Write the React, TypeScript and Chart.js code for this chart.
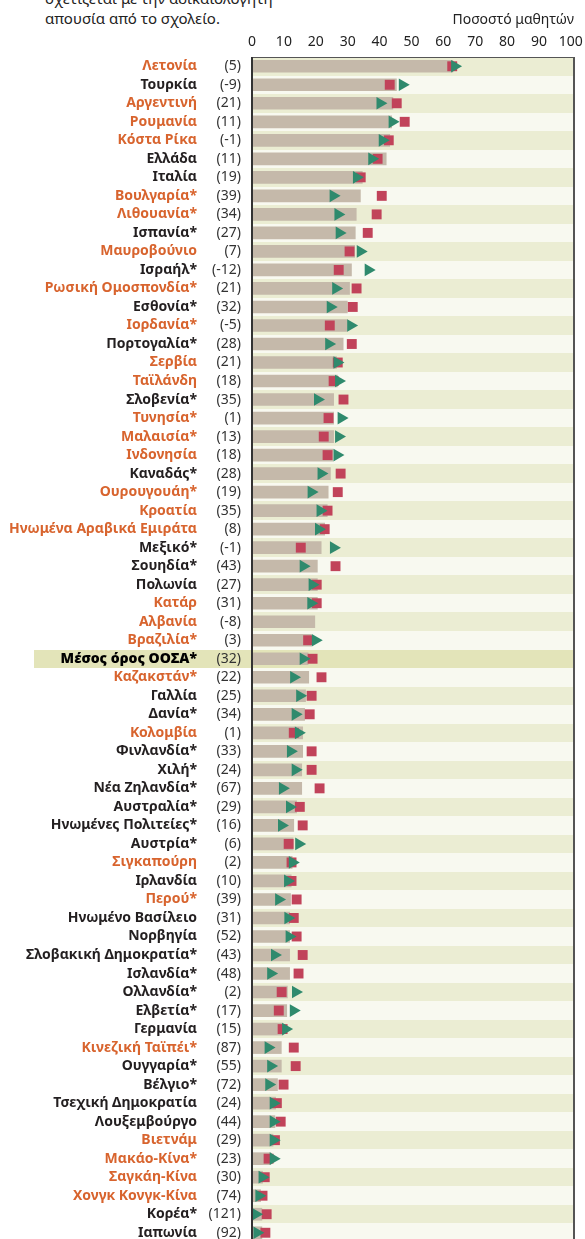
import React, { useEffect, useRef } from "react";
import { Chart, registerables } from "chart.js";

Chart.register(...registerables);

const countries = [
  "Λετονία", "Τουρκία", "Αργεντινή", "Ρουμανία", "Κόστα Ρίκα", "Ελλάδα", "Ιταλία",
  "Βουλγαρία*", "Λιθουανία*", "Ισπανία*", "Μαυροβούνιο", "Ισραήλ*", "Ρωσική Ομοσπονδία*",
  "Εσθονία*", "Ιορδανία*", "Πορτογαλία*", "Σερβία", "Ταϊλάνδη", "Σλοβενία*", "Τυνησία*",
  "Μαλαισία*", "Ινδονησία", "Καναδάς*", "Ουρουγουάη*", "Κροατία", "Ηνωμένα Αραβικά Εμιράτα",
  "Μεξικό*", "Σουηδία*", "Πολωνία", "Κατάρ", "Αλβανία", "Βραζιλία*", "Μέσος όρος ΟΟΣΑ*",
  "Καζακστάν*", "Γαλλία", "Δανία*", "Κολομβία", "Φινλανδία*", "Χιλή*", "Νέα Ζηλανδία*",
  "Αυστραλία*", "Ηνωμένες Πολιτείες*", "Αυστρία*", "Σιγκαπούρη", "Ιρλανδία", "Περού*",
  "Ηνωμένο Βασίλειο", "Νορβηγία", "Σλοβακική Δημοκρατία*", "Ισλανδία*", "Ολλανδία*",
  "Ελβετία*", "Γερμανία", "Κινεζική Ταϊπέι*", "Ουγγαρία*", "Βέλγιο*", "Τσεχική Δημοκρατία",
  "Λουξεμβούργο", "Βιετνάμ", "Μακάο-Κίνα*", "Σαγκάη-Κίνα", "Χονγκ Κονγκ-Κίνα", "Κορέα*", "Ιαπωνία",
];

const changeLabels = [
  "(5)", "(-9)", "(21)", "(11)", "(-1)", "(11)", "(19)",
  "(39)", "(34)", "(27)", "(7)", "(-12)", "(21)",
  "(32)", "(-5)", "(28)", "(21)", "(18)", "(35)", "(1)",
  "(13)", "(18)", "(28)", "(19)", "(35)", "(8)",
  "(-1)", "(43)", "(27)", "(31)", "(-8)", "(3)", "(32)",
  "(22)", "(25)", "(34)", "(1)", "(33)", "(24)", "(67)",
  "(29)", "(16)", "(6)", "(2)", "(10)", "(39)",
  "(31)", "(52)", "(43)", "(48)", "(2)",
  "(17)", "(15)", "(87)", "(55)", "(72)", "(24)",
  "(44)", "(29)", "(23)", "(30)", "(74)", "(121)", "(92)",
];

// true = partner economy (orange label)
const partnerFlags = [
  true, false, true, true, true, false, false,
  true, true, false, true, false, true,
  false, true, false, true, true, false, true,
  true, true, false, true, true, true,
  false, false, false, true, true, true, false,
  true, false, false, true, false, false, false,
  false, false, false, true, false, true,
  false, false, false, false, false,
  false, false, true, false, false, false,
  false, true, true, true, true, false, false,
];

// Overall share of students (bars)
const overallValues = [
  63.0, 45.3, 44.2, 43.8, 43.2, 42.1, 34.6,
  34.0, 32.7, 32.4, 32.2, 31.2, 30.6,
  29.9, 29.9, 28.6, 26.5, 26.8, 25.6, 25.6,
  25.6, 25.4, 24.6, 23.9, 23.6, 22.8,
  21.7, 20.5, 20.5, 20.5, 19.7, 18.6, 17.6,
  17.8, 16.8, 16.5, 15.9, 15.9, 15.6, 15.6,
  14.0, 13.1, 12.9, 12.6, 12.3, 12.1,
  11.8, 11.8, 11.8, 11.8, 11.1,
  10.9, 9.5, 9.2, 9.2, 8.0, 7.4,
  7.2, 6.6, 5.9, 3.3, 2.7, 3.1, 3.1,
];

// Red squares
const redValues = [
  62.8, 43.2, 45.4, 47.9, 42.9, 39.4, 34.1,
  40.7, 39.1, 36.3, 30.6, 27.2, 32.8,
  31.6, 24.4, 31.3, 26.9, 25.6, 28.7, 24.0,
  22.5, 23.7, 27.8, 26.9, 23.7, 22.8,
  15.3, 26.2, 20.3, 20.3, null, 17.6, 19.0,
  21.8, 18.7, 18.1, 13.1, 18.7, 18.7, 21.2,
  15.0, 15.9, 11.5, 12.4, 12.4, 14.0,
  13.1, 14.0, 15.9, 14.6, 9.3,
  8.4, 9.6, 13.1, 13.7, 9.9, 7.8,
  9.0, 7.2, 5.2, 4.0, 3.3, 4.6, 4.2,
];

// Green triangles
const greenValues = [
  63.6, 47.2, 40.2, 44.0, 40.9, 37.6, 32.8,
  25.5, 27.0, 27.4, 34.0, 36.5, 26.3,
  24.6, 31.0, 24.1, 26.7, 27.2, 20.6, 28.0,
  27.2, 26.7, 21.7, 18.6, 21.4, 20.9,
  25.6, 16.1, 18.9, 18.5, null, 19.9, 16.1,
  13.1, 15.0, 13.6, 14.6, 12.1, 13.6, 9.6,
  11.8, 9.3, 14.7, 12.7, 11.2, 8.4,
  11.3, 11.7, 7.1, 5.9, 13.7,
  13.0, 10.6, 5.1, 5.9, 5.3, 6.7,
  6.7, 6.7, 6.7, 3.2, 2.2, 1.2, 1.6,
];

const xTickValues = [0, 10, 20, 30, 40, 50, 60, 70, 80, 90, 100];
const xAxisTitle = "Ποσοστό μαθητών";
const headerLines = ["σχετίζεται με την αδικαιολόγητη", "απουσία από το σχολείο."];
const averageLabel = "Μέσος όρος ΟΟΣΑ*";

const FONT = "'Noto Sans', 'DejaVu Sans', sans-serif";
const ORANGE = "#d8642e";
const DARK = "#231f20";

const bandsPlugin = {
  id: "rowBands",
  beforeDraw(chart: any) {
    const { ctx, chartArea, scales } = chart;
    const y = scales.y;
    const n = countries.length;
    const avgIdx = countries.indexOf(averageLabel);
    const step = y.getPixelForValue(1) - y.getPixelForValue(0);
    ctx.save();
    for (let i = 0; i < n; i++) {
      const c = y.getPixelForValue(i);
      const top = Math.round(c - step / 2);
      const bottom = Math.round(c + step / 2);
      if (i === avgIdx) {
        ctx.fillStyle = "#e3e4b9";
        ctx.fillRect(34, top, chartArea.right - 34, bottom - top);
      } else {
        ctx.fillStyle = i % 2 === 0 ? "#ebedd3" : "#f8f9f0";
        ctx.fillRect(chartArea.left, top, chartArea.right - chartArea.left, bottom - top);
      }
    }
    ctx.restore();
  },
  afterDatasetsDraw(chart: any) {
    const { ctx, chartArea } = chart;
    ctx.save();
    ctx.strokeStyle = "#555555";
    ctx.lineWidth = 1;
    ctx.beginPath();
    ctx.moveTo(chartArea.left, chartArea.top + 0.5);
    ctx.lineTo(chartArea.right, chartArea.top + 0.5);
    ctx.stroke();
    ctx.lineWidth = 2;
    ctx.beginPath();
    ctx.moveTo(chartArea.right, chartArea.top);
    ctx.lineTo(chartArea.right, chartArea.bottom + 20);
    ctx.stroke();
    ctx.strokeStyle = "#333333";
    ctx.beginPath();
    ctx.moveTo(chartArea.left, chartArea.top);
    ctx.lineTo(chartArea.left, chartArea.bottom + 20);
    ctx.stroke();
    ctx.restore();
  },
};

export default function App() {
  const canvasRef = useRef<HTMLCanvasElement | null>(null);

  useEffect(() => {
    const canvas = canvasRef.current;
    if (!canvas) return;
    const avgIdx = countries.indexOf(averageLabel);
    const chart = new Chart(canvas, {
      type: "bar",
      data: {
        labels: countries,
        datasets: [
          {
            type: "bar",
            label: "Σύνολο",
            data: overallValues,
            backgroundColor: "#c5b9aa",
            barThickness: 12,
            xAxisID: "x",
            yAxisID: "y",
            order: 3,
          } as any,
          {
            type: "line",
            label: "A",
            data: redValues,
            showLine: false,
            indexAxis: "y",
            pointStyle: "rect",
            pointRadius: 7,
            pointBackgroundColor: "#c1435a",
            pointBorderWidth: 0,
            xAxisID: "x",
            yAxisID: "y",
            order: 2,
          } as any,
          {
            type: "line",
            label: "B",
            data: greenValues,
            showLine: false,
            indexAxis: "y",
            pointStyle: "triangle",
            pointRotation: 90,
            pointRadius: 7.3,
            pointBackgroundColor: "#2f8a6d",
            pointBorderWidth: 0,
            xAxisID: "x",
            yAxisID: "y",
            order: 1,
          } as any,
        ],
      },
      options: {
        indexAxis: "y",
        animation: false,
        responsive: false,
        events: [],
        layout: { padding: { top: 0, left: 0, right: 11, bottom: 8 } },
        plugins: { legend: { display: false }, tooltip: { enabled: false } },
        scales: {
          x: {
            type: "linear",
            position: "top",
            min: 0,
            max: 101,
            grid: { display: false, drawTicks: false },
            border: { display: false },
            ticks: { font: { family: FONT, size: 14 }, color: "#222222", padding: 7, maxRotation: 0 },
            title: {
              display: true,
              text: xAxisTitle,
              align: "end",
              color: "#222222",
              font: { family: FONT, size: 14 },
              padding: { top: 12, bottom: 0 },
            },
            afterBuildTicks: (s: any) => {
              s.ticks = xTickValues.map((v) => ({ value: v }));
            },
            afterFit: (s: any) => {
              s.height = 57;
              s.paddingLeft = 0;
              s.paddingRight = 0;
            },
          },
          y: {
            type: "category",
            position: "left",
            offset: true,
            weight: 2,
            grid: { display: false, drawTicks: false },
            border: { display: false },
            ticks: {
              autoSkip: false,
              padding: 3,
              color: (ctx: any) =>
                ctx.index === avgIdx ? "#000000" : partnerFlags[ctx.index] ? ORANGE : DARK,
              font: (ctx: any) => ({
                family: FONT,
                size: 14,
                weight: ctx.index === avgIdx ? "900" : "bold",
              }),
            },
            afterFit: (s: any) => {
              s.width = 200;
              s.paddingTop = 0;
              s.paddingBottom = 0;
            },
          },
          yNum: {
            type: "category",
            labels: changeLabels,
            position: "left",
            offset: true,
            weight: 1,
            grid: { display: false, drawTicks: false },
            border: { display: false },
            ticks: {
              autoSkip: false,
              padding: 11,
              color: "#333333",
              font: { family: FONT, size: 14 },
            },
            afterFit: (s: any) => {
              s.width = 52;
              s.paddingTop = 0;
              s.paddingBottom = 0;
            },
          },
        },
      } as any,
      plugins: [bandsPlugin],
    });
    return () => chart.destroy();
  }, []);

  return (
    <div
      style={{
        position: "absolute",
        left: 0,
        top: 0,
        width: 585,
        height: 1239,
        overflow: "hidden",
        background: "#ffffff",
      }}
    >
      <div
        style={{
          position: "absolute",
          left: 45,
          top: -12,
          fontFamily: FONT,
          fontSize: 15,
          lineHeight: "20px",
          color: "#222222",
          whiteSpace: "nowrap",
        }}
      >
        {headerLines.map((l, i) => (
          <div key={i}>{l}</div>
        ))}
      </div>
      <canvas
        ref={canvasRef}
        width={585}
        height={1250}
        style={{ position: "absolute", left: 0, top: 0, display: "block" }}
      />
    </div>
  );
}
